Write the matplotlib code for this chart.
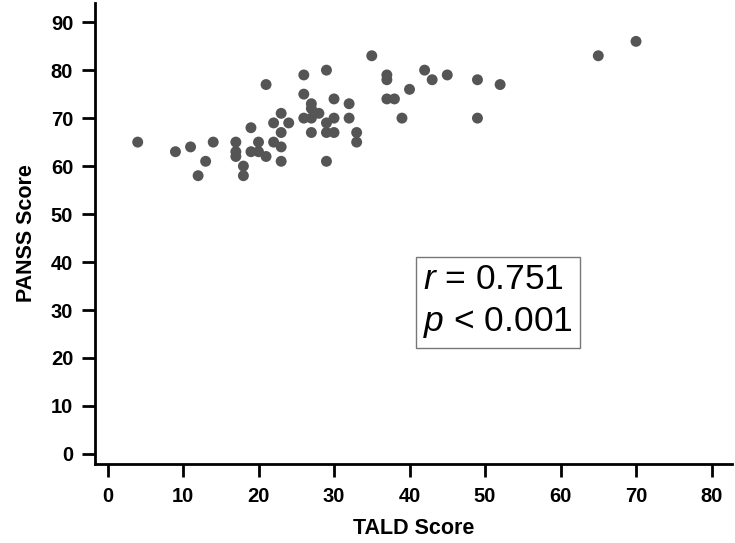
import matplotlib.pyplot as plt

plt.rcParams['font.family'] = ['Liberation Sans', 'DejaVu Sans']
plt.rcParams['mathtext.fontset'] = 'custom'
plt.rcParams['mathtext.rm'] = 'Liberation Sans'
plt.rcParams['mathtext.it'] = 'Liberation Sans:italic'

# TALD vs PANSS scores
tald = [4, 9, 11, 12, 13, 14, 17, 17, 17, 18, 18, 19, 19, 20, 20, 21, 21,
        22, 22, 23, 23, 23, 23, 24, 26, 26, 26, 27, 27, 27, 27, 28, 29, 29,
        29, 29, 30, 30, 30, 32, 32, 33, 33, 35, 37, 37, 37, 38, 39, 40, 42,
        43, 45, 49, 49, 52, 65, 70]
panss = [65, 63, 64, 58, 61, 65, 65, 63, 62, 60, 58, 68, 63, 65, 63, 77, 62,
         69, 65, 71, 67, 64, 61, 69, 79, 75, 70, 73, 72, 70, 67, 71, 80, 69,
         67, 61, 74, 70, 67, 73, 70, 67, 65, 83, 79, 78, 74, 74, 70, 76, 80,
         78, 79, 78, 70, 77, 83, 86]

x_ticks = list(range(0, 81, 10))
y_ticks = list(range(0, 91, 10))

fig = plt.figure(figsize=(7.35, 5.43), dpi=100)
ax = fig.add_axes([0.1288, 0.1455, 0.867, 0.849])

ax.scatter(tald, panss, s=62, color='#555555', edgecolors='none', zorder=3)

ax.set_xlim(-1.7, 82.7)
ax.set_ylim(-2.1, 94)
ax.set_xticks(x_ticks)
ax.set_yticks(y_ticks)

for side in ['top', 'right']:
    ax.spines[side].set_visible(False)
for side in ['left', 'bottom']:
    ax.spines[side].set_linewidth(2)

ax.tick_params(axis='both', length=9.5, width=2, labelsize=14.5, color='black')
ax.tick_params(axis='x', pad=7)
ax.tick_params(axis='y', pad=6)
for lbl in ax.get_xticklabels() + ax.get_yticklabels():
    lbl.set_fontweight('bold')

ax.set_xlabel('TALD Score', fontsize=15.5, fontweight='bold', labelpad=9)
ax.set_ylabel('PANSS Score', fontsize=15.5, fontweight='bold', labelpad=10)

ax.text(0.516, 0.268, '$\\mathit{r}$ = 0.751\n$\\mathit{p}$ < 0.001',
        transform=ax.transAxes, fontsize=25.5, linespacing=1.38,
        va='bottom', ha='left',
        bbox=dict(boxstyle='square,pad=0.2', facecolor='white',
                  edgecolor='#777777', linewidth=1))

fig.savefig('out.png', dpi=100)
